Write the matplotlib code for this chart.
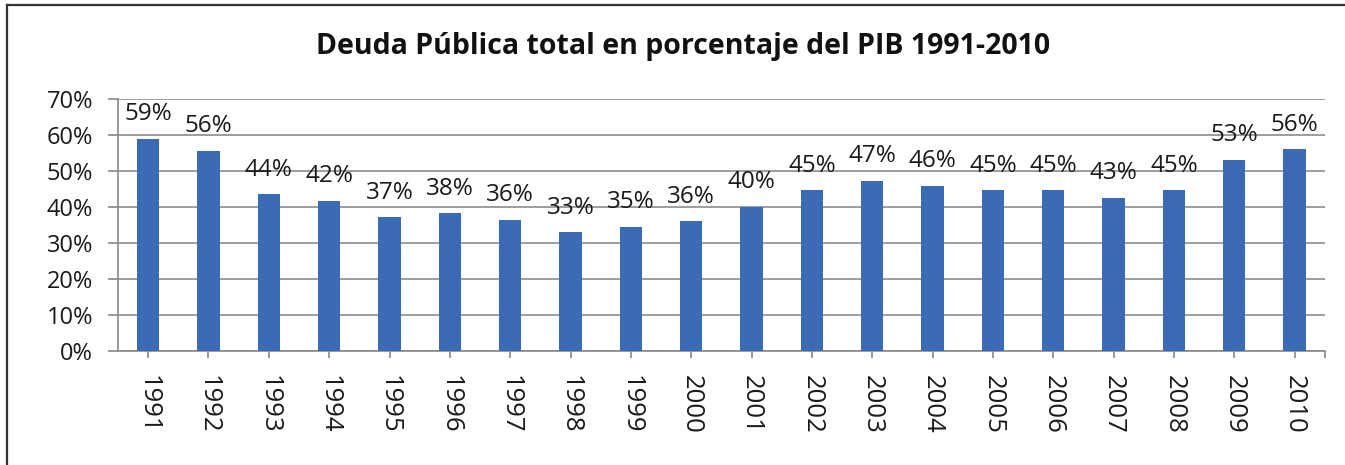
import matplotlib.pyplot as plt
from matplotlib.lines import Line2D
import numpy as np

years = ["1991", "1992", "1993", "1994", "1995", "1996", "1997", "1998", "1999", "2000",
         "2001", "2002", "2003", "2004", "2005", "2006", "2007", "2008", "2009", "2010"]
deuda = [59.0, 55.7, 43.6, 41.7, 37.2, 38.3, 36.5, 33.0, 34.6, 36.1,
         40.1, 44.7, 47.3, 45.9, 44.6, 44.6, 42.6, 44.6, 53.1, 56.1]

plt.rcParams['font.family'] = ['Open Sans', 'DejaVu Sans']

fig = plt.figure(figsize=(13.45, 4.65), dpi=100)
ax = fig.add_axes([0.0877, 0.245, 0.8973, 0.542])

x = np.arange(len(years))
ax.bar(x, deuda, width=0.37, color='#3A6BB4', zorder=3)

# etiquetas de datos encima de cada barra
for xi, v in zip(x, deuda):
    ax.annotate(f"{v:.0f}%", (xi, v), xytext=(0, 9), textcoords='offset points',
                ha='center', va='bottom', fontsize=17.5, color='#1a1a1a')

ax.set_xlim(-0.5, len(years) - 0.5)
ax.set_ylim(0, 70)
ax.set_yticks(np.arange(0, 71, 10))
ax.set_yticklabels([f"{t}%" for t in range(0, 71, 10)], fontsize=17, color='#1a1a1a')
ax.set_xticks(x)
ax.set_xticklabels(years, rotation=270, fontsize=18.5, color='#1a1a1a')
ax.set_xticks([len(years) - 0.5], minor=True)
ax.tick_params(axis='x', which='both', length=5, color='#888888', width=1.2, pad=12)
ax.tick_params(axis='y', length=7, color='#888888', width=1.2, pad=11)
ax.grid(axis='y', color='#8c8c8c', linewidth=1.2, zorder=0)

for s in ['top', 'right']:
    ax.spines[s].set_visible(False)
for s in ['left', 'bottom']:
    ax.spines[s].set_color('#888888')
    ax.spines[s].set_linewidth(1.2)

fig.text(0.508, 0.9, "Deuda Pública total en porcentaje del PIB 1991-2010", ha='center', va='center',
         fontsize=20.5, fontweight='bold', color='#111111')

# marco: solo arriba e izquierda
fig.lines.append(Line2D([0.0055, 0.0055], [0, 0.99], transform=fig.transFigure, color='#333333', linewidth=1.6))
fig.lines.append(Line2D([0.0055, 1.0], [0.99, 0.99], transform=fig.transFigure, color='#333333', linewidth=1.6))

fig.savefig("out.png", dpi=100)
